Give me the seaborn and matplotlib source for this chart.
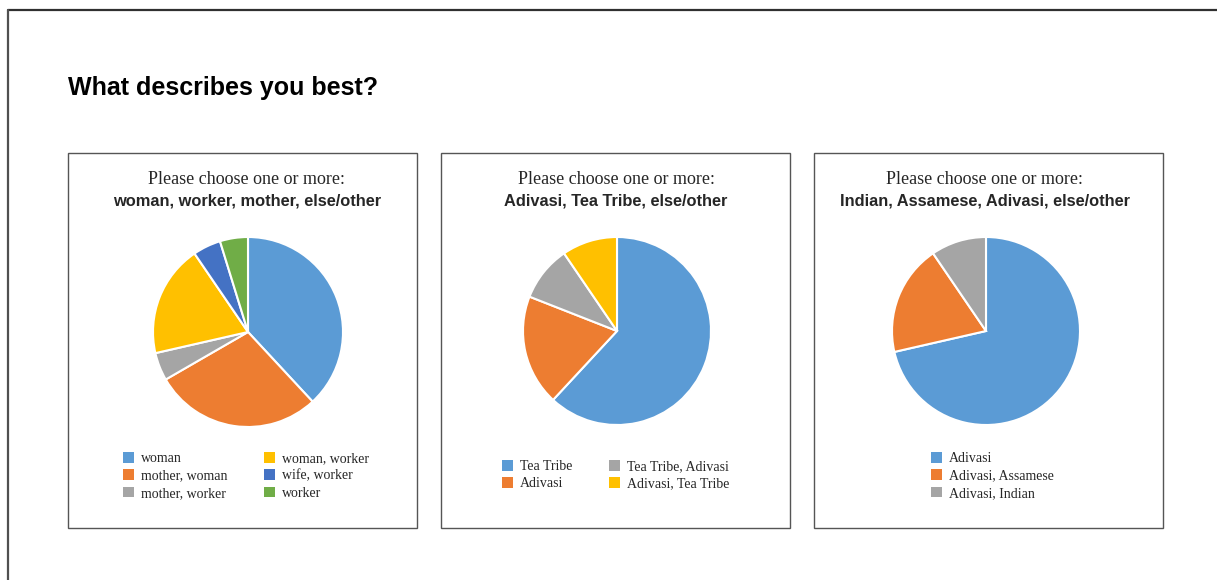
import seaborn as sns
from matplotlib import pyplot as plt
from matplotlib.patches import Patch, Rectangle
from matplotlib.lines import Line2D

# data (counts, n=21 per question)
role_labels = ["woman", "mother, woman", "mother, worker", "woman, worker", "wife, worker", "worker"]
role_counts = [8, 6, 1, 4, 1, 1]

tribe_labels = ["Tea Tribe", "Adivasi", "Tea Tribe, Adivasi", "Adivasi, Tea Tribe"]
tribe_counts = [13, 4, 2, 2]

nation_labels = ["Adivasi", "Adivasi, Assamese", "Adivasi, Indian"]
nation_counts = [15, 4, 2]

subtitles = [
    "woman, worker, mother, else/other",
    "Adivasi, Tea Tribe, else/other",
    "Indian, Assamese, Adivasi, else/other",
]

if __name__ == "__main__":
    sns.set_theme(style="white")
    plt.rcParams["font.family"] = ["Liberation Sans", "DejaVu Sans"]

    office = sns.color_palette(["#5B9BD5", "#ED7D31", "#A5A5A5", "#FFC000", "#4472C4", "#70AD47"])
    colors_1 = office[:6]
    colors_2 = office[:4]
    colors_3 = office[:3]

    W, H = 1217, 580
    fig = plt.figure(figsize=(W / 100, H / 100), dpi=100)

    def fx(x):
        return x / W

    def fy(y):
        return 1 - y / H

    # outer frame (top + left only)
    fig.add_artist(Line2D([fx(8), 1], [fy(9.5), fy(9.5)], color="#303030", lw=1.6))
    fig.add_artist(Line2D([fx(8), fx(8)], [fy(9.5), 0], color="#505050", lw=1.6))

    fig.text(fx(68), fy(88), "What describes you best?", fontsize=18, fontweight="bold",
             ha="left", va="center", color="black")

    # (left, right, pie cx, pie cy, radius, values, labels, colours, legend columns, legend anchor)
    panels = [
        (68, 417, 248, 332, 95, role_counts, role_labels, colors_1, 2, (123, 452)),
        (441, 790, 617, 331, 94, tribe_counts, tribe_labels, colors_2, 2, (502, 460)),
        (814, 1163, 986, 331, 94, nation_counts, nation_labels, colors_3, 1, (931, 452)),
    ]

    for i, (x0, x1, cx, cy, r, vals, labs, cols, ncol, leg) in enumerate(panels):
        fig.add_artist(Rectangle((fx(x0), fy(528)), fx(x1) - fx(x0), fy(153) - fy(528),
                                 fill=False, edgecolor="#555555", lw=1.0))
        fig.text(fx(cx - 1), fy(179.5), "Please choose one or more:", fontsize=13,
                 family=["Liberation Serif", "DejaVu Serif"], ha="center", va="center")
        fig.text(fx(cx - 1), fy(200.5), subtitles[i], fontsize=11.8, fontweight="bold",
                 ha="center", va="center")

        ax = fig.add_axes([fx(cx - r), fy(cy + r), 2 * r / W, 2 * r / H])
        ax.pie(vals, colors=cols, startangle=90, counterclock=False, radius=1,
               wedgeprops=dict(edgecolor="white", linewidth=1.5))
        ax.set_xlim(-1.0, 1.0)
        ax.set_ylim(-1.0, 1.0)
        ax.set_aspect("equal")
        ax.axis("off")

        handles = [Patch(facecolor=c, edgecolor="none") for c in cols]
        fig.legend(handles, labs, loc="upper left", bbox_to_anchor=(fx(leg[0]), fy(leg[1])),
                   ncol=ncol, frameon=False, borderaxespad=0, borderpad=0,
                   prop={"family": ["Liberation Serif", "DejaVu Serif"], "size": 10},
                   handlelength=0.8, handleheight=0.8, handletextpad=0.5,
                   labelspacing=0.3, columnspacing=2.65)

    plt.savefig("out.png", dpi=100, facecolor="white")
    plt.close()
